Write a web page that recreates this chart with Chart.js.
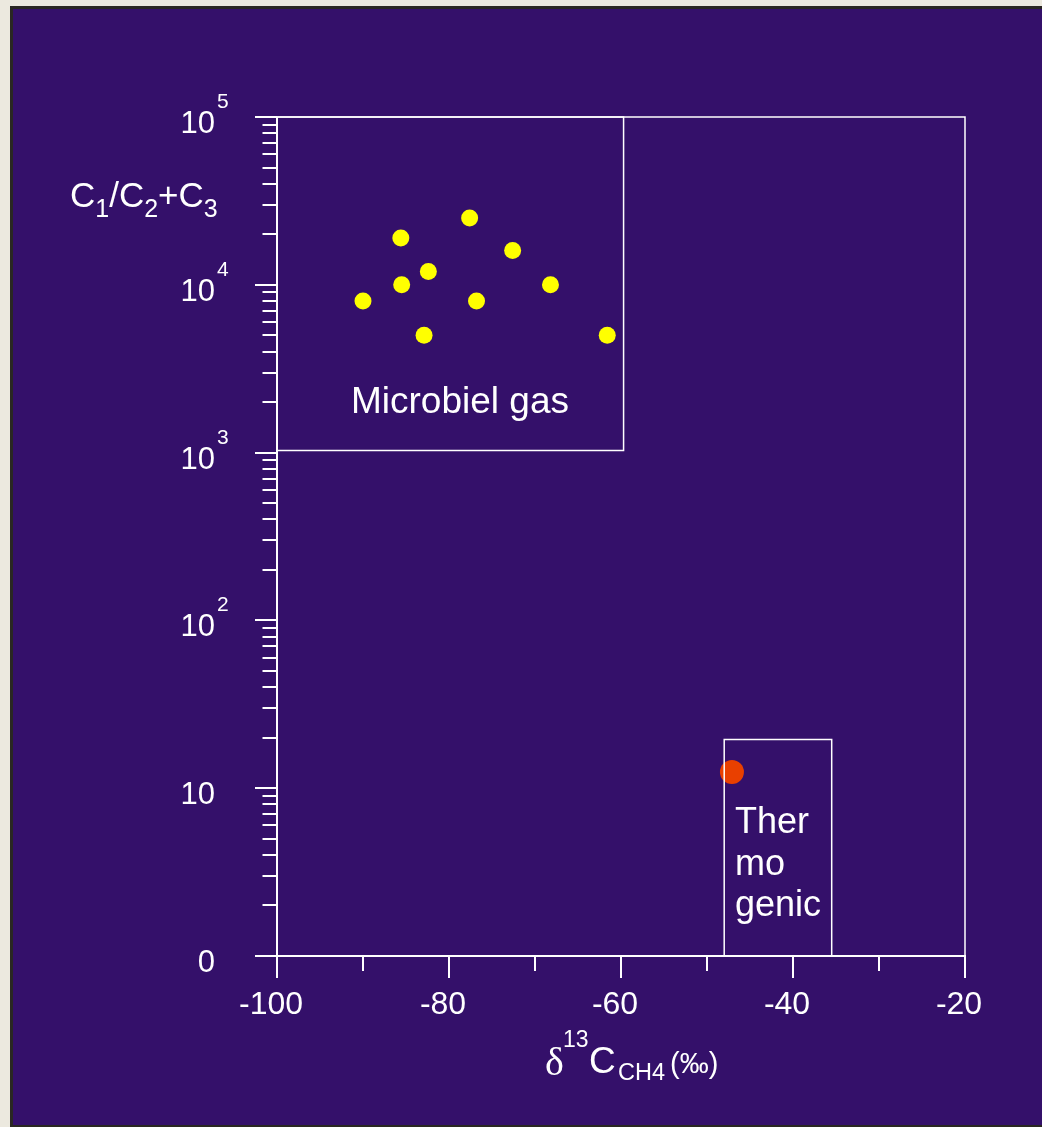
<!DOCTYPE html>
<html>
<head>
<meta charset="utf-8">
<script src="https://cdn.jsdelivr.net/npm/chart.js@4/dist/chart.umd.min.js"></script>
<style>
html,body{margin:0;padding:0;background:#ece9df;}
#c{position:absolute;left:0;top:0;}
</style>
</head>
<body>
<canvas id="c" width="1042" height="1127"></canvas>
<script>
// ---- Data ----
const microbialX = [-77.6, -85.6, -72.6, -82.4, -85.5, -68.2, -90.0, -76.8, -82.9, -61.6];
const microbialY = [25000, 19000, 16000, 12000, 10000, 10000, 8000, 8000, 5000, 5000];
const thermoX = [-47.1];
const thermoY = [12.5];

// region boxes (outline corners)
const outerBoxX = [-100, -20, -20];
const outerBoxY = [100000, 100000, 1];
const microbialBoxX = [-100, -59.7, -59.7, -100];
const microbialBoxY = [100000, 100000, 1030, 1030];
const thermoBoxX = [-48, -48, -35.5, -35.5];
const thermoBoxY = [1, 19.5, 19.5, 1];

// axis ticks
const xTicks = [-100, -80, -60, -40, -20];
const xTickLabels = ['-100', '-80', '-60', '-40', '-20'];
const xMinorTicks = [-90, -70, -50, -30];
const yTicks = [1, 10, 100, 1000, 10000, 100000];
const yTickBase = ['0', '10', '10', '10', '10', '10'];
const yTickExp = ['', '', '2', '3', '4', '5'];

const microbialLabel = 'Microbiel gas';
const thermoLabel = ['Ther', 'mo', 'genic'];

const FONT = '"Liberation Sans", Arial, sans-serif';
const WHITE = '#ffffff';

function pts(xs, ys){ return xs.map((x,i)=>({x:x, y:ys[i]})); }

const boxStyle = {type:'line', showLine:true, fill:false, pointRadius:0, borderColor:WHITE, borderWidth:1.5, tension:0, clip:false, order:0};

const bgPlugin = {
  id:'bg',
  beforeDraw(chart){
    const ctx = chart.ctx;
    ctx.save();
    ctx.fillStyle = '#ece9df'; ctx.fillRect(0,0,1042,1127);
    ctx.fillStyle = '#2a2723'; ctx.fillRect(10,6,1032,1121);
    ctx.fillStyle = '#34106a'; ctx.fillRect(13,9,1029,1116);
    ctx.restore();
  }
};

const axesPlugin = {
  id:'axesDeco',
  afterDraw(chart){
    const ctx = chart.ctx;
    const xs = chart.scales.x, ys = chart.scales.y;
    const ca = chart.chartArea;
    ctx.save();
    ctx.strokeStyle = WHITE; ctx.fillStyle = WHITE;
    ctx.lineWidth = 2;
    // axis lines
    ctx.beginPath();
    ctx.moveTo(ca.left, ca.top); ctx.lineTo(ca.left, ca.bottom);
    ctx.moveTo(ca.left, ca.bottom); ctx.lineTo(ca.right + 1, ca.bottom);
    ctx.stroke();
    // x ticks
    ctx.beginPath();
    xTicks.forEach(v=>{ const px = Math.round(xs.getPixelForValue(v)); ctx.moveTo(px, ca.bottom); ctx.lineTo(px, ca.bottom + 22); });
    xMinorTicks.forEach(v=>{ const px = Math.round(xs.getPixelForValue(v)); ctx.moveTo(px, ca.bottom); ctx.lineTo(px, ca.bottom + 15); });
    // y ticks
    yTicks.forEach(v=>{ const py = Math.round(ys.getPixelForValue(v)); ctx.moveTo(ca.left - 22, py); ctx.lineTo(ca.left, py); });
    for (let d = 0; d < yTicks.length - 1; d++) {
      for (let m = 2; m <= 9; m++) {
        const py = Math.round(ys.getPixelForValue(yTicks[d] * m)) ;
        ctx.moveTo(ca.left - 14.5, py); ctx.lineTo(ca.left, py);
      }
    }
    ctx.stroke();
    // x tick labels
    ctx.font = '32px ' + FONT;
    ctx.textAlign = 'center'; ctx.textBaseline = 'alphabetic';
    xTicks.forEach((v,i)=>{ ctx.fillText(xTickLabels[i], xs.getPixelForValue(v) - 6, ca.bottom + 58); });
    // y tick labels
    yTicks.forEach((v,i)=>{
      const py = ys.getPixelForValue(v);
      ctx.font = '31px ' + FONT; ctx.textAlign = 'right';
      ctx.fillText(yTickBase[i], 215, py + 16);
      if (yTickExp[i]) {
        ctx.font = '21px ' + FONT; ctx.textAlign = 'left';
        ctx.fillText(yTickExp[i], 217, py - 9);
      }
    });
    // y axis title  C1/C2+C3
    let x = 70; const by = 207;
    const parts = [['C',35,0],['1',25,10],['/C',35,0],['2',25,10],['+C',35,0],['3',25,10]];
    ctx.textAlign = 'left';
    parts.forEach(p=>{ ctx.font = p[1] + 'px ' + FONT; ctx.fillText(p[0], x, by + p[2]); x += ctx.measureText(p[0]).width; });
    // x axis title  δ13C CH4 (‰)
    ctx.font = '40px "Liberation Serif", "DejaVu Serif", serif';
    ctx.fillText('\u03b4', 545, 1075);
    ctx.font = '23px ' + FONT; ctx.fillText('13', 563, 1047);
    ctx.font = '37px ' + FONT; ctx.fillText('C', 589, 1073);
    ctx.font = '23.5px ' + FONT; ctx.fillText('CH4', 618, 1080);
    ctx.font = '29px ' + FONT; ctx.fillText('(\u2030)', 670, 1073);
    // region labels
    ctx.font = '37px ' + FONT; ctx.textAlign = 'left';
    ctx.fillText(microbialLabel, 351, 413);
    ctx.font = '36px ' + FONT;
    const tb = [833, 875, 916];
    thermoLabel.forEach((t,i)=> ctx.fillText(t, 735, tb[i]));
    ctx.restore();
  }
};

new Chart(document.getElementById('c'), {
  type:'scatter',
  data:{ datasets:[
    Object.assign({label:'outer', data:pts(outerBoxX, outerBoxY)}, boxStyle),
    Object.assign({label:'microbial box', data:pts(microbialBoxX, microbialBoxY)}, boxStyle),
    Object.assign({label:'thermo box', data:pts(thermoBoxX, thermoBoxY)}, boxStyle),
    {label:'Microbial', data:pts(microbialX, microbialY), backgroundColor:'#ffff00', borderWidth:0, pointRadius:8.5, order:1},
    {label:'Thermogenic', data:pts(thermoX, thermoY), backgroundColor:'#e94000', borderWidth:0, pointRadius:12, order:1}
  ]},
  options:{
    responsive:false, animation:false, devicePixelRatio:1,
    layout:{padding:{left:277, top:117, right:77, bottom:171}},
    plugins:{legend:{display:false}, tooltip:{enabled:false}},
    scales:{
      x:{type:'linear', min:-100, max:-20, display:false},
      y:{type:'logarithmic', min:1, max:100000, display:false}
    }
  },
  plugins:[bgPlugin, axesPlugin]
});
</script>
</body>
</html>
